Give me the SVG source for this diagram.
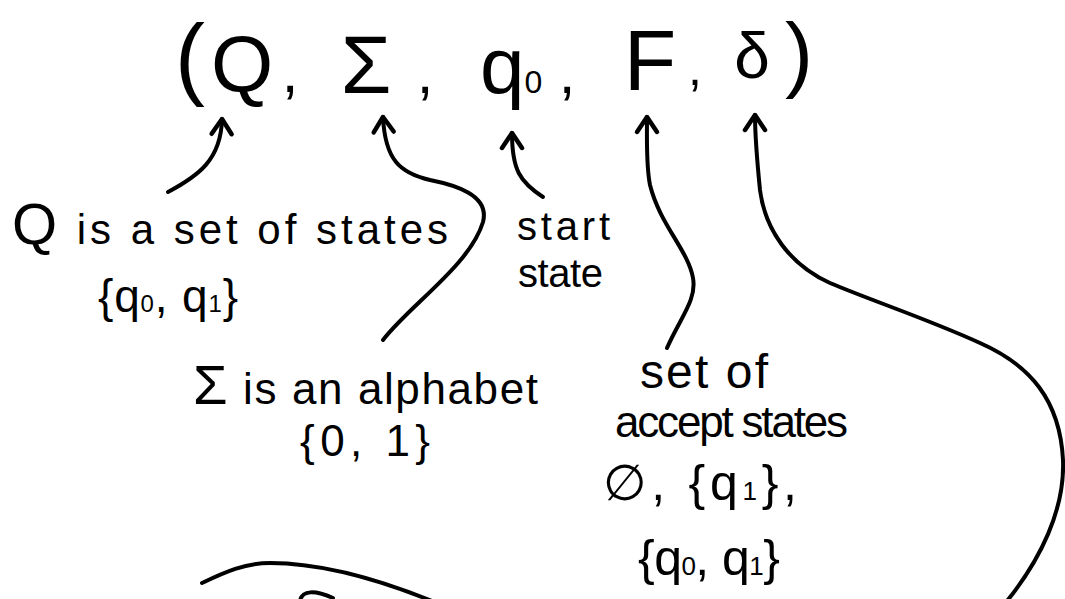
<svg xmlns="http://www.w3.org/2000/svg" width="1065" height="599" viewBox="0 0 1065 599">
<style>
text{font-family:"Liberation Sans","DejaVu Sans",sans-serif;fill:#000}
.c{fill:none;stroke:#000;stroke-width:4;stroke-linecap:round;stroke-linejoin:round}
</style>
<defs>
<marker id="ah" markerUnits="userSpaceOnUse" markerWidth="40" markerHeight="40" viewBox="-20 -20 40 40" refX="0" refY="0" orient="auto" overflow="visible">
<path d="M-15,-10 L0,0 L-15,10" fill="none" stroke="#000" stroke-width="4.5" stroke-linecap="round" stroke-linejoin="round"/>
</marker>
</defs>
<rect width="1065" height="599" fill="#fff"/>
<g id="tuple">
<text x="190" y="88" font-size="90" text-anchor="middle">(</text>
<text x="242" y="92" font-size="80" text-anchor="middle">Q</text>
<text x="290" y="92" font-size="60" text-anchor="middle">,</text>
<text x="366" y="93" font-size="82" text-anchor="middle">Σ</text>
<text x="425" y="93" font-size="60" text-anchor="middle">,</text>
<text x="480" y="93" font-size="80">q<tspan font-size="32">0</tspan></text>
<text x="567" y="93" font-size="60" text-anchor="middle">,</text>
<text x="650" y="90" font-size="86" text-anchor="middle">F</text>
<text x="695" y="85" font-size="50" text-anchor="middle">,</text>
<text x="752" y="78" font-size="64" text-anchor="middle">δ</text>
<text x="799" y="82" font-size="84" text-anchor="middle">)</text>
</g>
<g id="q-label">
<text x="12" y="244" font-size="42" textLength="436" lengthAdjust="spacing"><tspan font-size="58">Q</tspan> is a set of states</text>
<text x="98" y="312" font-size="46" textLength="140" lengthAdjust="spacing">{q<tspan font-size="24">0</tspan>, q<tspan font-size="24">1</tspan>}</text>
</g>
<g id="start-label">
<text x="517" y="240" font-size="40" textLength="93" lengthAdjust="spacing">start</text>
<text x="518" y="287" font-size="40" textLength="85" lengthAdjust="spacing">state</text>
</g>
<g id="sigma-label">
<text x="193" y="404" font-size="44" textLength="345" lengthAdjust="spacing"><tspan font-size="56">Σ</tspan> is an alphabet</text>
<text x="300" y="456" font-size="44" textLength="130" lengthAdjust="spacing">{0, 1}</text>
</g>
<g id="f-label">
<text x="640" y="388" font-size="48" textLength="128" lengthAdjust="spacing">set of</text>
<text x="615" y="437" font-size="44" textLength="233" lengthAdjust="spacing">accept states</text>
<text x="603" y="500" font-size="50" textLength="194" lengthAdjust="spacing">∅, {q<tspan font-size="26">1</tspan>},</text>
<text x="638" y="575" font-size="50" textLength="142" lengthAdjust="spacing">{q<tspan font-size="26">0</tspan>, q<tspan font-size="26">1</tspan>}</text>
</g>
<g id="connectors">
<path class="c" marker-end="url(#ah)" d="M168,192 C198,176 221,160 222,119"/>
<path class="c" marker-end="url(#ah)" d="M383,340 C410,305 470,265 483,222 C490,195 455,185 430,180 C400,173 385,160 383,117"/>
<path class="c" marker-end="url(#ah)" d="M543,197 C520,182 512,170 512,133"/>
<path class="c" marker-end="url(#ah)" d="M667,348 C680,318 697,300 693,278 C688,250 660,225 650,185 C646,165 647,140 647,117"/>
<path class="c" marker-end="url(#ah)" d="M1007,601 C1040,560 1065,510 1063,460 C1060,400 1030,365 980,343 C930,320 870,300 830,283 C790,265 765,230 760,190 C757,160 755,140 755,115"/>
<path class="c" d="M202,583 C225,572 245,563 270,563 C320,563 380,580 432,601"/>
<path class="c" d="M300,601 C302,590 315,590 333,598"/>
</g>
</svg>
